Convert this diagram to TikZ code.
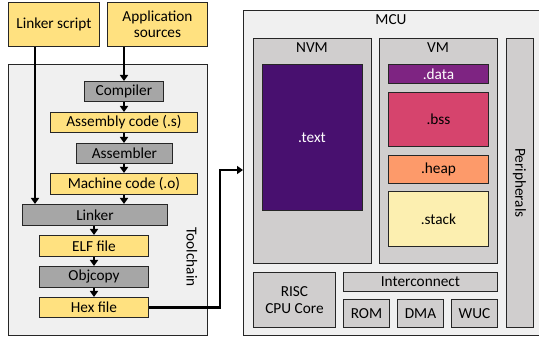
\documentclass[tikz,border=0pt]{standalone}
\usepackage{fontspec}
\setmainfont{Carlito}
\usetikzlibrary{arrows.meta,positioning}
\definecolor{fyel}{HTML}{FFE180}
\definecolor{fgray}{HTML}{A6A6A6}
\definecolor{fbg}{HTML}{F0F0F0}
\definecolor{fmem}{HTML}{D0CECE}
\definecolor{ctext}{HTML}{48106F}
\definecolor{cdata}{HTML}{7E2482}
\definecolor{cbss}{HTML}{D6446D}
\definecolor{cheap}{HTML}{FD9A6A}
\definecolor{cstack}{HTML}{FCEFB0}
\begin{document}
\begin{tikzpicture}[x=1pt,y=-1pt,
  every node/.style={font=\fontsize{15.3}{16.5}\selectfont},
  bx/.style={draw=black!85,line width=0.9pt,inner sep=0pt},
  ybox/.style={bx,fill=fyel},
  gbox/.style={bx,fill=fgray},
  mbox/.style={bx,fill=fmem},
  flow/.style={line width=2.4pt,-{Triangle[width=8pt,length=6pt]}},
  feed/.style={line width=2.4pt,-{Triangle[width=8pt,length=6pt]}}
]
\useasboundingbox (0,0) rectangle (539,339);
% Toolchain
\node[bx,fill=fbg,minimum width=199pt,minimum height=271pt,anchor=north west] (tc) at (8,64) {};
\node[rotate=-90] (tclabel) at (192,257) {Toolchain};
% inputs
\node[ybox,minimum width=91pt,minimum height=44pt,anchor=north west] (ls) at (8,2) {Linker script};
\node[ybox,minimum width=100pt,minimum height=44pt,anchor=north west,align=center] (as) at (107,2) {Application\\sources};
% chain
\node[gbox,minimum width=79pt,minimum height=20pt,anchor=north west] (comp) at (84,81) {Compiler};
\node[ybox,minimum width=147pt,minimum height=20pt,anchor=north west] (asm) at (50,112) {Assembly code (.s)};
\node[gbox,minimum width=96pt,minimum height=20pt,anchor=north west] (asmr) at (76,143) {Assembler};
\node[ybox,minimum width=147pt,minimum height=21pt,anchor=north west] (mc) at (50,173) {Machine code (.o)};
\node[gbox,minimum width=145pt,minimum height=21pt,anchor=north west] (lnk) at (22,204) {Linker};
\node[ybox,minimum width=109pt,minimum height=21pt,anchor=north west] (elf) at (39,235) {ELF file};
\node[gbox,minimum width=109pt,minimum height=21pt,anchor=north west] (obj) at (39,266) {Objcopy};
\node[ybox,minimum width=109pt,minimum height=20pt,anchor=north west] (hex) at (39,297) {Hex file};
% MCU
\node[bx,fill=fbg,minimum width=296pt,minimum height=325pt,anchor=north west] (mcu) at (243,10) {};
\node[anchor=north] (mculabel) at (391,11) {MCU};
\node[mbox,minimum width=118pt,minimum height=225pt,anchor=north west] (nvm) at (253,38) {};
\node[anchor=north] (nvml) at (312,39) {NVM};
\node[mbox,minimum width=118pt,minimum height=225pt,anchor=north west] (vm) at (379,38) {};
\node[anchor=north] (vml) at (438,39) {VM};
\node[bx,fill=ctext,text=white,minimum width=100pt,minimum height=146pt,anchor=north west] (text) at (262,64) {};
\node[text=white] (textl) at (312,138) {.text};
\node[bx,fill=cdata,text=white,minimum width=100pt,minimum height=19pt,anchor=north west] (data) at (388,64) {.data};
\node[bx,fill=cbss,minimum width=100pt,minimum height=54pt,anchor=north west] (bss) at (388,92) {.bss};
\node[bx,fill=cheap,minimum width=100pt,minimum height=28pt,anchor=north west] (heap) at (388,155) {.heap};
\node[bx,fill=cstack,minimum width=100pt,minimum height=55pt,anchor=north west] (stack) at (388,191) {.stack};
\node[mbox,minimum width=27pt,minimum height=289pt,anchor=north west] (per) at (506,38) {};
\node[rotate=-90] (perl) at (519.5,183) {Peripherals};
\node[mbox,minimum width=82pt,minimum height=55pt,anchor=north west,align=center] (cpu) at (253,272) {RISC\\CPU Core};
\node[mbox,minimum width=154pt,minimum height=19pt,anchor=north west] (ic) at (343,272) {Interconnect};
\node[mbox,minimum width=46pt,minimum height=28pt,anchor=north west] (rom) at (343,299) {ROM};
\node[mbox,minimum width=46pt,minimum height=28pt,anchor=north west] (dma) at (397,299) {DMA};
\node[mbox,minimum width=46pt,minimum height=28pt,anchor=north west] (wuc) at (451,299) {WUC};
% arrows
\draw[feed] (ls.south -| 35,0) -- (lnk.north -| 35,0);
\draw[feed] (as.south -| 124,0) -- (comp.north -| 124,0);
\draw[flow] (comp.south -| 124,0) -- (asm.north -| 124,0);
\draw[flow] (asm.south -| 124,0) -- (asmr.north -| 124,0);
\draw[flow] (asmr.south -| 124,0) -- (mc.north -| 124,0);
\draw[flow] (mc.south -| 124,0) -- (lnk.north -| 124,0);
\draw[flow] (lnk.south -| 94,0) -- (elf.north -| 94,0);
\draw[flow] (elf.south -| 94,0) -- (obj.north -| 94,0);
\draw[flow] (obj.south -| 94,0) -- (hex.north -| 94,0);
\coordinate (bend) at (220,170);
\draw[line width=2.4pt,-{Triangle[width=8pt,length=6pt]}] (hex.east) -- (hex.east -| bend) -- (bend) -- (mcu.west |- bend);
\end{tikzpicture}
\end{document}
